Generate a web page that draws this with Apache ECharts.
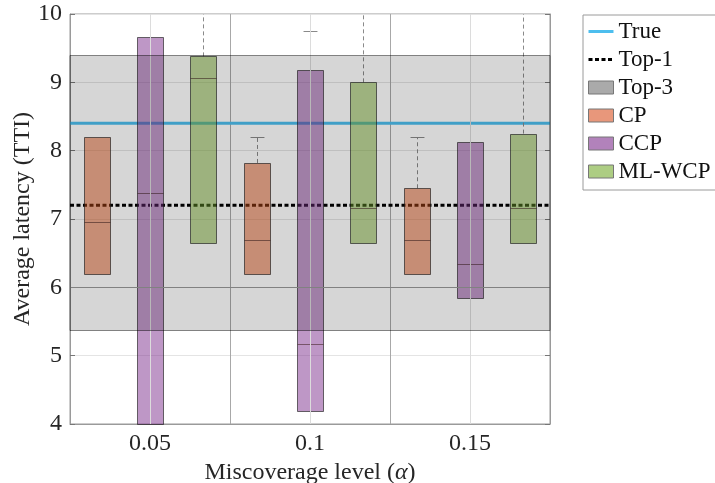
<!DOCTYPE html>
<html>
<head>
<meta charset="utf-8">
<script src="https://cdn.jsdelivr.net/npm/echarts@6/dist/echarts.min.js"></script>
<style>html,body{margin:0;padding:0;background:#fff;}#main{width:715px;height:483px;}</style>
</head>
<body>
<div id="main"></div>
<script>
// ---- data ----
const categories = ['0.05', '0.1', '0.15'];
const yTicks = [4, 5, 6, 7, 8, 9, 10];
// [min, q1, median, q3, max] per category
const cpData = [[6.2, 6.2, 6.95, 8.2, 8.2], [6.2, 6.2, 6.70, 7.82, 8.2], [6.2, 6.2, 6.70, 7.45, 8.2]];
const ccpData = [[3.3, 3.6, 7.38, 9.66, 9.66], [3.8, 4.19, 5.17, 9.18, 9.75], [5.84, 5.84, 6.34, 8.12, 8.12]];
const mlwcpData = [[6.65, 6.65, 9.06, 9.38, 10.6], [6.65, 6.65, 7.16, 9.0, 10.6], [6.65, 6.65, 7.16, 8.25, 10.6]];
const trueValue = 8.4;
const top1Value = 7.2;
const top3Range = [5.38, 9.4];

const FONT = '"Liberation Serif", "Times New Roman", serif';
const chart = echarts.init(document.getElementById('main'), null, {renderer: 'canvas'});

function boxRenderer(offset, fill) {
  return function (params, api) {
    const cs = params.coordSys;
    const xi = api.value(0);
    const band = api.size([1, 0])[0];
    const cx = Math.round(api.coord([xi, api.value(3)])[0] + offset * band) + 0.5;
    const w = Math.round(band * 0.165);
    const cap = band * 0.087;
    const top = cs.y, bot = cs.y + cs.height;
    const cl = v => Math.max(top, Math.min(bot, v));
    const y = k => api.coord([xi, api.value(k)])[1];
    const yMin = y(1), yQ1 = y(2), yMed = y(3), yQ3 = y(4), yMax = y(5);
    const ch = [];
    const wStyle = {stroke: '#8a8a8a', lineWidth: 1, lineDash: [4, 3]};
    const cStyle = {stroke: '#8a8a8a', lineWidth: 1};
    if (yMax < yQ3 - 0.5) {
      ch.push({type: 'line', shape: {x1: cx, y1: cl(yQ3), x2: cx, y2: cl(yMax)}, style: wStyle});
      if (yMax >= top) ch.push({type: 'line', shape: {x1: cx - cap / 2, y1: Math.round(yMax) + 0.5, x2: cx + cap / 2, y2: Math.round(yMax) + 0.5}, style: cStyle});
    }
    if (yMin > yQ1 + 0.5) {
      ch.push({type: 'line', shape: {x1: cx, y1: cl(yQ1), x2: cx, y2: cl(yMin)}, style: wStyle});
      if (yMin <= bot) ch.push({type: 'line', shape: {x1: cx - cap / 2, y1: Math.round(yMin) + 0.5, x2: cx + cap / 2, y2: Math.round(yMin) + 0.5}, style: cStyle});
    }
    const rTop = Math.round(cl(yQ3)) + 0.5, rBot = Math.round(cl(yQ1)) + 0.5;
    ch.push({type: 'rect', shape: {x: cx - w / 2, y: rTop, width: w, height: rBot - rTop},
      style: {fill: fill, stroke: 'rgba(30,30,30,0.65)', lineWidth: 1}});
    if (yMed >= top && yMed <= bot) {
      const ym = Math.round(yMed) + 0.5;
      ch.push({type: 'line', shape: {x1: cx - w / 2, y1: ym, x2: cx + w / 2, y2: ym}, style: {stroke: 'rgba(60,30,30,0.55)', lineWidth: 1}});
    }
    return {type: 'group', children: ch};
  };
}

function bandRenderer(params, api) {
  const cs = params.coordSys;
  const y1 = Math.round(api.coord([0, api.value(1)])[1]) + 0.5;
  const y0 = Math.round(api.coord([0, api.value(0)])[1]) + 0.5;
  return {type: 'rect', shape: {x: cs.x, y: y1, width: cs.width, height: y0 - y1},
    style: {fill: 'rgba(0,0,0,0.16)', stroke: 'rgba(0,0,0,0.45)', lineWidth: 1}};
}

const boxSeries = (name, data, offset, fill, legendColor) => ({
  name: name, type: 'custom', xAxisIndex: 0, yAxisIndex: 0, z: 3,
  renderItem: boxRenderer(offset, fill),
  itemStyle: {color: legendColor},
  encode: {x: 0, y: [1, 2, 3, 4, 5]},
  data: data.map((d, i) => [i].concat(d)),
  silent: true
});

const option = {
  animation: false,
  backgroundColor: '#fff',
  grid: {left: 70, right: 165, top: 14, bottom: 59, outerBoundsMode: 'none', containLabel: false,
    show: true, borderColor: '#9a9a9a', borderWidth: 1, backgroundColor: 'transparent'},
  xAxis: [{
    type: 'category', data: categories, boundaryGap: true,
    axisLine: {lineStyle: {color: '#9a9a9a'}},
    axisTick: {show: false},
    axisLabel: {fontFamily: FONT, fontSize: 24, color: '#262626', margin: 8},
    splitLine: {show: true, lineStyle: {color: '#a8a8a8', width: 1}},
    name: 'Miscoverage level {m|(}{a|α}{m|)}',
    nameLocation: 'middle', nameGap: 30,
    nameTextStyle: {fontFamily: FONT, fontSize: 24, color: '#262626',
      rich: {m: {fontFamily: FONT, fontSize: 24, color: '#262626'}, a: {fontFamily: FONT, fontSize: 24, fontStyle: 'italic', color: '#262626'}}}
  }, {
    type: 'value', min: 0, max: 1, show: false
  }],
  yAxis: [{
    type: 'value', min: yTicks[0], max: yTicks[yTicks.length - 1], interval: 1,
    axisLine: {show: true, lineStyle: {color: '#9a9a9a'}},
    axisTick: {show: true, inside: true, length: 5, lineStyle: {color: '#777'}},
    axisLabel: {fontFamily: FONT, fontSize: 24, color: '#262626', margin: 8},
    splitLine: {show: true, lineStyle: {color: '#e4e4e4', width: 1}},
    name: 'Average latency (TTI)', nameLocation: 'middle', nameGap: 35, nameMoveOverlap: false,
    nameTextStyle: {fontFamily: FONT, fontSize: 24, color: '#262626'}
  }, {
    type: 'value', position: 'right', min: yTicks[0], max: yTicks[yTicks.length - 1], interval: 1,
    axisLine: {show: true, lineStyle: {color: '#9a9a9a'}},
    axisTick: {show: true, inside: true, length: 5, lineStyle: {color: '#777'}},
    axisLabel: {show: false}, splitLine: {show: false}
  }],
  legend: {
    orient: 'vertical', left: 583, top: 15, padding: [5, 6, 7, 4],
    itemWidth: 25, itemHeight: 13, itemGap: 5,
    borderColor: '#9a9a9a', borderWidth: 1, backgroundColor: '#fff', borderRadius: 0,
    textStyle: {fontFamily: FONT, fontSize: 23, lineHeight: 23, color: '#111'},
    data: [
      {name: 'True', itemStyle: {opacity: 0}, lineStyle: {width: 3}},
      {name: 'Top-1', itemStyle: {opacity: 0}, lineStyle: {width: 3}},
      {name: 'Top-3', icon: 'rect', itemStyle: {color: '#aaaaaa', borderColor: '#777', borderWidth: 1}},
      {name: 'CP', icon: 'rect', itemStyle: {color: '#e8977b', borderColor: '#777', borderWidth: 1}},
      {name: 'CCP', icon: 'rect', itemStyle: {color: '#b282bb', borderColor: '#777', borderWidth: 1}},
      {name: 'ML-WCP', icon: 'rect', itemStyle: {color: '#adcd83', borderColor: '#777', borderWidth: 1}}
    ]
  },
  series: [
    {
      name: '_grid', type: 'line', xAxisIndex: 0, yAxisIndex: 0, data: [null, null, null], z: 0, silent: true,
      markLine: {
        silent: true, symbol: 'none', label: {show: false}, animation: false,
        data: [
          {xAxis: categories[0], lineStyle: {color: '#dcdcdc', width: 1, type: 'solid'}},
          {xAxis: categories[1], lineStyle: {color: '#dcdcdc', width: 1, type: 'solid'}},
          {xAxis: categories[2], lineStyle: {color: '#dcdcdc', width: 1, type: 'solid'}},
          {yAxis: 6, lineStyle: {color: '#9a9a9a', width: 1, type: 'solid'}}
        ]
      }
    },
    {
      name: 'True', type: 'line', xAxisIndex: 1, yAxisIndex: 0, symbol: 'none', z: 2, silent: true,
      lineStyle: {color: '#4dbeee', width: 3}, itemStyle: {color: '#4dbeee'},
      data: [[0, trueValue], [1, trueValue]]
    },
    {
      name: 'Top-1', type: 'line', xAxisIndex: 1, yAxisIndex: 0, symbol: 'none', z: 2, silent: true,
      lineStyle: {color: '#000', width: 3, type: [4, 2.5]}, itemStyle: {color: '#000'},
      data: [[0, top1Value], [1, top1Value]]
    },
    boxSeries('CP', cpData, -0.332, 'rgba(217,83,25,0.5)', '#e8977b'),
    boxSeries('CCP', ccpData, 0, 'rgba(126,47,142,0.5)', '#b282bb'),
    boxSeries('ML-WCP', mlwcpData, 0.332, 'rgba(119,172,48,0.5)', '#adcd83'),
    {
      name: 'Top-3', type: 'custom', xAxisIndex: 0, yAxisIndex: 0, z: 5, silent: true,
      renderItem: bandRenderer, itemStyle: {color: '#aaaaaa'},
      encode: {y: [0, 1]},
      data: [[top3Range[0], top3Range[1]]]
    }
  ]
};
chart.setOption(option);
</script>
</body>
</html>
